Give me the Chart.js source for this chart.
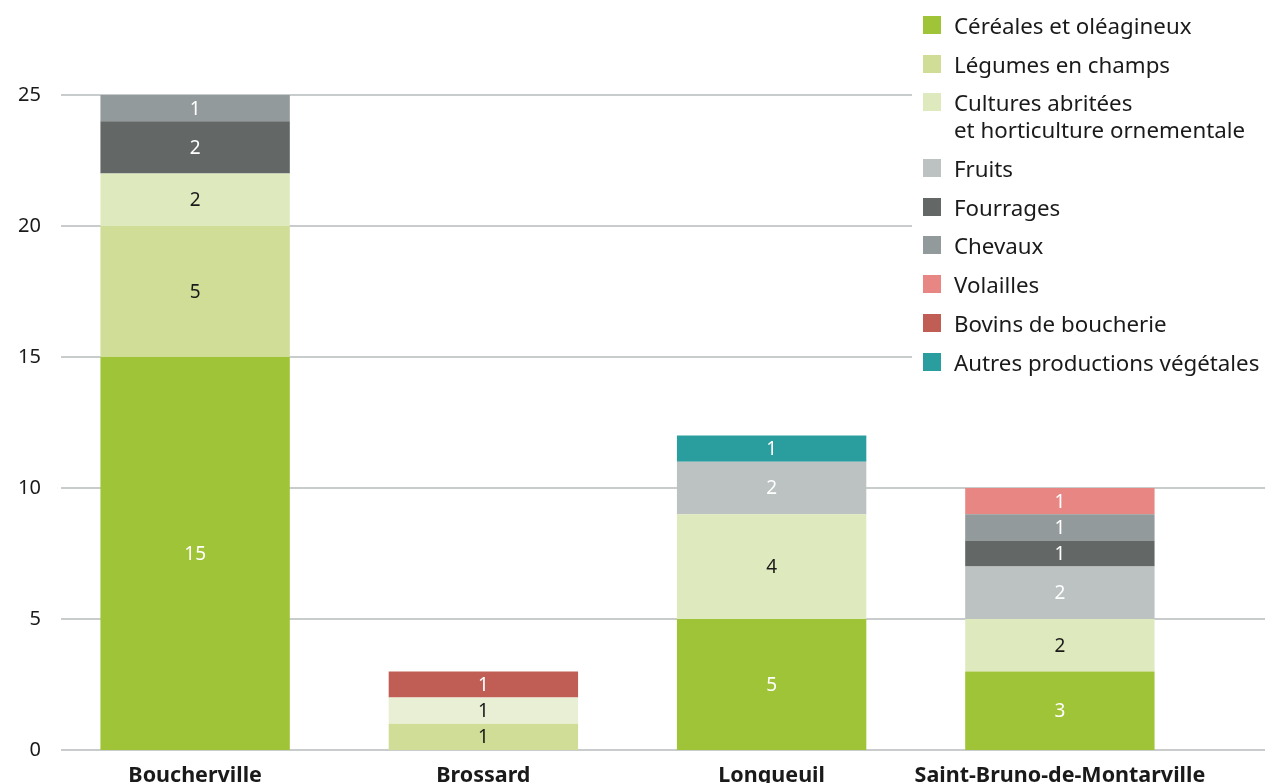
<!DOCTYPE html>
<html>
<head>
<meta charset="utf-8">
<script src="https://cdn.jsdelivr.net/npm/chart.js"></script>
<style>
  body { margin: 0; background: #fff; font-family: "Noto Sans", sans-serif; }
  #wrap { position: relative; width: 1265px; height: 783px; }
  #legend { position: absolute; left: 912px; top: 12px; width: 353px; background: #fff; padding-bottom: 6px; }
  .item { position: relative; padding-left: 42px; margin-bottom: 11.7px; font-size: 22.3px; line-height: 27px; color: #1a1a1a; white-space: nowrap; }
  .sw { position: absolute; left: 11px; top: 4px; width: 18px; height: 18px; }
</style>
</head>
<body>
<div id="wrap">
  <canvas id="farmChart" width="1265" height="783"></canvas>
  <div id="legend"></div>
</div>
<script>
const cities = ['Boucherville', 'Brossard', 'Longueuil', 'Saint-Bruno-de-Montarville'];
const yTicks = [0, 5, 10, 15, 20, 25];

const cereales   = [15, null, 5, 3];
const legumes    = [5, 1, null, null];
const cultures   = [2, 1, 4, 2];
const fruits     = [null, null, 2, 2];
const fourrages  = [2, null, null, 1];
const chevaux    = [1, null, null, 1];
const volailles  = [null, null, null, 1];
const bovins     = [null, 1, null, null];
const autres     = [null, null, 1, null];

const series = [
  { label: 'Céréales et oléagineux', data: cereales, color: '#a0c437', text: '#fff' },
  { label: 'Légumes en champs', data: legumes, color: '#cfdd97', text: '#1a1a1a' },
  { label: 'Cultures abritées\net horticulture ornementale', data: cultures,
    color: ['#dfe9be', '#e9efd5', '#dfe9be', '#dfe9be'], swatch: '#dfe9be', text: '#1a1a1a' },
  { label: 'Fruits', data: fruits, color: '#bcc1c1', text: '#fff' },
  { label: 'Fourrages', data: fourrages, color: '#636867', text: '#fff' },
  { label: 'Chevaux', data: chevaux, color: '#939a9b', text: '#fff' },
  { label: 'Volailles', data: volailles, color: '#e88683', text: '#fff' },
  { label: 'Bovins de boucherie', data: bovins, color: '#c05e55', text: '#fff' },
  { label: 'Autres productions végétales', data: autres, color: '#2a9d9e', text: '#fff' }
];

const FONT = '"Noto Sans", sans-serif';

// horizontal rules drawn under the bars, running past the plot to the page edge
const gridLines = {
  id: 'gridLines',
  beforeDatasetsDraw(chart) {
    const { ctx, scales: { y } } = chart;
    ctx.save();
    ctx.strokeStyle = '#c9cccc';
    ctx.lineWidth = 2;
    yTicks.forEach(v => {
      const py = Math.round(y.getPixelForValue(v));
      ctx.beginPath();
      ctx.moveTo(61, py);
      ctx.lineTo(chart.width, py);
      ctx.stroke();
    });
    ctx.restore();
  }
};

// segment values in the middle of each block
const segmentLabels = {
  id: 'segmentLabels',
  afterDatasetsDraw(chart) {
    const { ctx } = chart;
    ctx.save();
    ctx.font = '19px ' + FONT;
    ctx.textAlign = 'center';
    ctx.textBaseline = 'middle';
    chart.data.datasets.forEach((ds, i) => {
      chart.getDatasetMeta(i).data.forEach((bar, j) => {
        const v = ds.data[j];
        if (v == null) return;
        ctx.fillStyle = series[i].text;
        ctx.fillText(v, bar.x, (bar.y + bar.base) / 2 + 1);
      });
    });
    ctx.restore();
  }
};

new Chart(document.getElementById('farmChart'), {
  type: 'bar',
  data: {
    labels: cities,
    datasets: series.map(s => ({
      label: s.label,
      data: s.data,
      backgroundColor: s.color,
      borderWidth: 0,
      barPercentage: 0.657,
      categoryPercentage: 1
    }))
  },
  options: {
    responsive: false,
    animation: false,
    layout: { padding: { top: 95, right: 61, left: 0, bottom: 0 } },
    plugins: { legend: { display: false }, tooltip: { enabled: false } },
    scales: {
      x: {
        stacked: true,
        grid: { display: false },
        border: { display: false },
        ticks: {
          color: '#1a1a1a',
          font: { family: FONT, size: 21.5, weight: 'bold' },
          padding: 5,
          maxRotation: 0,
          minRotation: 0,
          autoSkip: false
        },
        afterFit(scale) { scale.height = 33; }
      },
      y: {
        stacked: true,
        min: 0,
        max: 25,
        afterBuildTicks(scale) { scale.ticks = yTicks.map(v => ({ value: v })); },
        grid: { display: false },
        border: { display: false },
        ticks: { color: '#1a1a1a', font: { family: FONT, size: 20 }, padding: 2 },
        afterFit(scale) { scale.width = 51; }
      }
    }
  },
  plugins: [gridLines, segmentLabels]
});

// legend as page text so the two-line entry wraps like the others
const legend = document.getElementById('legend');
series.forEach(s => {
  const item = document.createElement('div');
  item.className = 'item';
  const sw = document.createElement('span');
  sw.className = 'sw';
  sw.style.background = s.swatch || s.color;
  item.appendChild(sw);
  s.label.split('\n').forEach((line, k) => {
    if (k) item.appendChild(document.createElement('br'));
    item.appendChild(document.createTextNode(line));
  });
  legend.appendChild(item);
});
</script>
</body>
</html>
